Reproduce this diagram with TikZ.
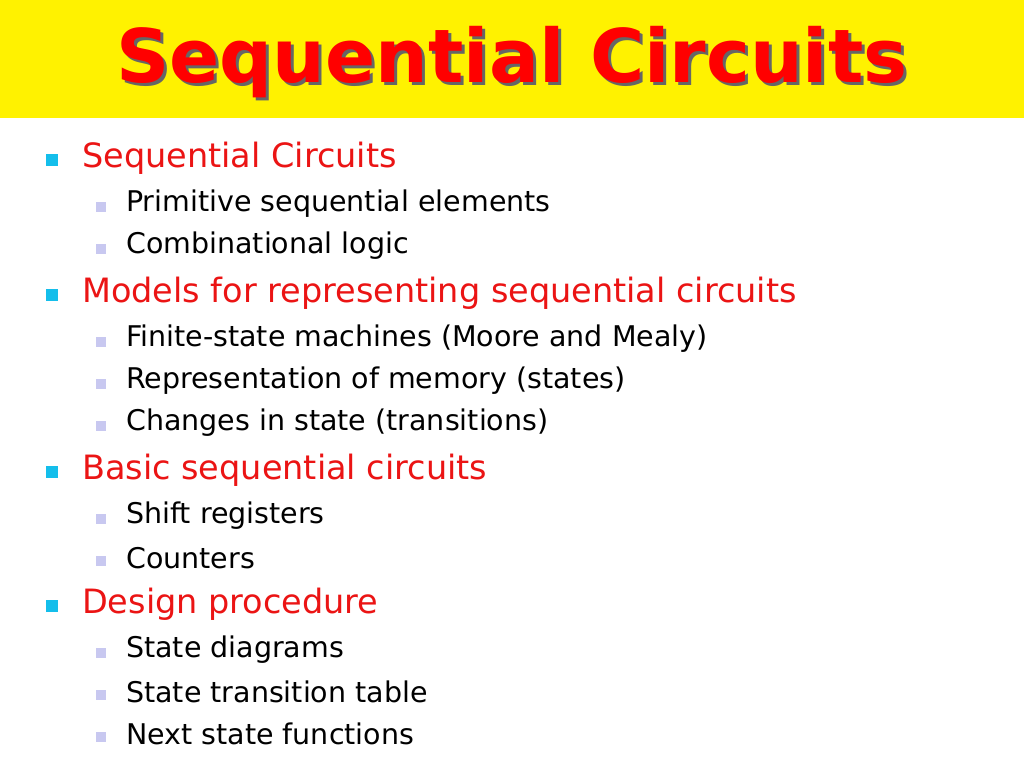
\documentclass[tikz,border=0pt]{standalone}
\usepackage{fontspec}
\setmainfont{DejaVu Sans}
\newfontfamily\titlefont{DejaVu Sans}
\definecolor{ttl}{RGB}{255,0,0}
\definecolor{lone}{RGB}{235,20,20}
\definecolor{bcyan}{RGB}{20,190,235}
\definecolor{blav}{RGB}{200,200,240}
\begin{document}
\begin{tikzpicture}[x=1pt,y=-1pt,
  lone/.style={anchor=west,text=lone,font=\fontsize{33.5}{33.5}\selectfont,inner sep=0},
  ltwo/.style={anchor=west,text=black,font=\fontsize{28.5}{28.5}\selectfont,inner sep=0},
  bone/.style={fill=bcyan,minimum size=12pt,inner sep=0},
  btwo/.style={fill=blav,minimum size=10pt,inner sep=0}]
\useasboundingbox (0,0) rectangle (1024,767);
\fill[white] (0,0) rectangle (1024,767);
\fill[yellow] (0,0) rectangle (1024,118);
\node[text=black!60,font=\titlefont\bfseries\fontsize{74}{74}\selectfont] at (515,65) {Sequential Circuits};
\node (title) [text=ttl,font=\titlefont\bfseries\fontsize{74}{74}\selectfont] at (512,62) {Sequential Circuits};
\foreach \y/\t [count=\i] in {158/Sequential Circuits,293/Models for representing sequential circuits,470/Basic sequential circuits,604/Design procedure}{
  \node[bone] (b\i) at (52,\y+2) {};
  \node[lone] (t\i) at (82,\y) {\t};
}
\foreach \y/\t [count=\i] in {204/Primitive sequential elements,246/Combinational logic,339/Finite-state machines (Moore and Mealy),381/Representation of memory (states),423/Changes in state (transitions),516/Shift registers,558/Counters,650/State diagrams,692/State transition table,734/Next state functions}{
  \node[btwo] (c\i) at (101,\y+3) {};
  \node[ltwo] (s\i) at (126,\y) {\t};
}
\end{tikzpicture}
\end{document}
